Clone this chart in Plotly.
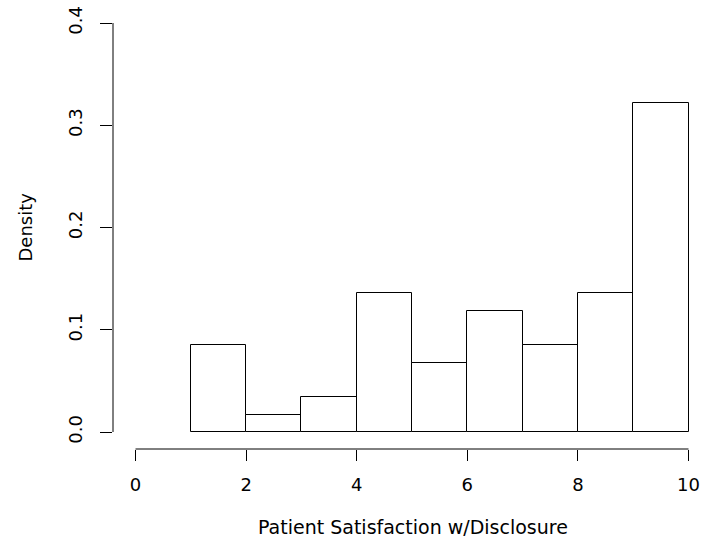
import plotly.graph_objects as go

# Histogram data (density per unit-width bin)
bin_left = [1, 2, 3, 4, 5, 6, 7, 8, 9]
bin_right = [2, 3, 4, 5, 6, 7, 8, 9, 10]
density = [0.0847, 0.0169, 0.0339, 0.1356, 0.0678, 0.1186, 0.0847, 0.1356, 0.3220]

x_ticks = [0, 2, 4, 6, 8, 10]
x_tick_labels = ["0", "2", "4", "6", "8", "10"]
y_ticks = [0.0, 0.1, 0.2, 0.3, 0.4]
y_tick_labels = ["0.0", "0.1", "0.2", "0.3", "0.4"]

x_title = "Patient Satisfaction w/Disclosure"
y_title = "Density"

FONT = "DejaVu Sans, Liberation Sans, sans-serif"
FS = 18
W, H = 709, 546
ML, MR, MT, MB = 113, 0, 7, 97

# pixel anchors of the data scale
px_x0, px_x10 = 135.5, 688.5
px_y0, px_y04 = 432.0, 23.0
ppx = (px_x10 - px_x0) / (x_ticks[-1] - x_ticks[0])
ppy = (px_y0 - px_y04) / (y_ticks[-1] - y_ticks[0])

xr0 = x_ticks[0] - (px_x0 - ML) / ppx
xr1 = xr0 + (W - ML - MR) / ppx
yr0 = y_ticks[0] - ((H - MB) - px_y0) / ppy
yr1 = yr0 + (H - MT - MB) / ppy

centers = [(a + b) / 2 for a, b in zip(bin_left, bin_right)]
widths = [b - a for a, b in zip(bin_left, bin_right)]

fig = go.Figure()
fig.add_trace(go.Bar(
    x=centers, y=density, width=widths,
    marker=dict(color="white", line=dict(color="black", width=1)),
    hoverinfo="skip", showlegend=False,
))

# R-style axis lines spanning first to last tick
fig.add_shape(type="line", xref="x", yref="paper", x0=x_ticks[0], x1=x_ticks[-1], y0=0, y1=0,
              line=dict(color="black", width=1))
fig.add_shape(type="line", xref="paper", yref="y", x0=0, x1=0, y0=y_ticks[0], y1=y_ticks[-1],
              line=dict(color="black", width=1))

fig.add_annotation(text=x_title, xref="x", yref="paper", x=(x_ticks[0] + x_ticks[-1]) / 2 + 0.02, y=0,
                   yanchor="middle", xanchor="center", yshift=-(527 - (H - MB)), showarrow=False,
                   font=dict(family=FONT, size=19, color="black"))
fig.add_annotation(text=y_title, xref="paper", yref="y", x=0, y=(y_ticks[0] + y_ticks[-1]) / 2,
                   xanchor="center", yanchor="middle", xshift=-(ML - 25), textangle=-90, showarrow=False,
                   font=dict(family=FONT, size=FS, color="black"))

fig.update_layout(
    width=W, height=H,
    margin=dict(l=ML, r=MR, t=MT, b=MB, autoexpand=False),
    paper_bgcolor="white", plot_bgcolor="white",
    bargap=0,
    font=dict(family=FONT, size=FS, color="black"),
    xaxis=dict(range=[xr0, xr1], tickvals=x_ticks, ticktext=x_tick_labels,
               ticks="outside", ticklen=11, tickcolor="black", tickwidth=1, ticklabelstandoff=8,
               showline=False, showgrid=False, zeroline=False, fixedrange=True, automargin=False),
    yaxis=dict(range=[yr0, yr1], tickvals=y_ticks, ticktext=y_tick_labels,
               ticks="outside", ticklen=12, tickcolor="black", tickwidth=1, tickangle=-90,
               ticklabelstandoff=11,
               showline=False, showgrid=False, zeroline=False, fixedrange=True, automargin=False),
)

fig.write_html("out.html", config={"displayModeBar": False},
               post_script="document.body.style.margin='0px';")
